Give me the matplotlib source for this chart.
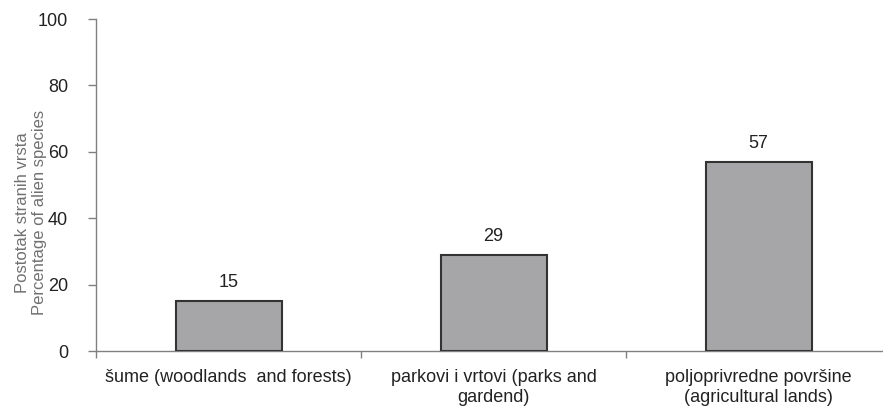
import matplotlib
matplotlib.use("Agg")
import matplotlib.pyplot as plt
import numpy as np

categories = ["šume (woodlands  and forests)",
              "parkovi i vrtovi (parks and\ngardend)",
              "poljoprivredne površine\n(agricultural lands)"]
values = [15, 29, 57]
yticks = [0, 20, 40, 60, 80, 100]

plt.rcParams['font.family'] = ['Liberation Sans', 'DejaVu Sans']

fig = plt.figure(figsize=(8.83, 4.08), dpi=100)
ax = fig.add_axes([96/883, 57/408, (891-96)/883, (351-19)/408])

x = np.arange(len(categories))
bars = ax.bar(x, values, width=0.40, color='#a6a6a8', edgecolor='#333333', linewidth=1.5, zorder=3)
for xi, v in zip(x, values):
    ax.text(xi, v + 3, str(v), ha='center', va='bottom', fontsize=13, color='#222222')

ax.set_xlim(-0.5, 2.5)
ax.set_ylim(0, 100)
ax.set_yticks(yticks)
ax.set_yticklabels([str(t) for t in yticks], fontsize=13, color='#222222')
ax.set_xticks(x)
ax.set_xticklabels(categories, fontsize=13, color='#222222', linespacing=1.2)
ax.set_xticks(np.arange(-0.5, 3.0, 1.0), minor=True)
ax.tick_params(axis='x', which='major', length=0, pad=13)
ax.tick_params(axis='x', which='minor', length=5, color='#808080', width=1)
ax.tick_params(axis='y', length=6, color='#808080', width=1, pad=14)

for s in ['top', 'right']:
    ax.spines[s].set_visible(False)
for s in ['left', 'bottom']:
    ax.spines[s].set_color('#808080')
    ax.spines[s].set_linewidth(1)

fig.text(0.035, 0.48, "Postotak stranih vrsta\nPercentage of alien species", rotation=90,
         ha='center', va='center', fontsize=12, color='#707070', linespacing=1.15)

fig.savefig("out.png", dpi=100)
